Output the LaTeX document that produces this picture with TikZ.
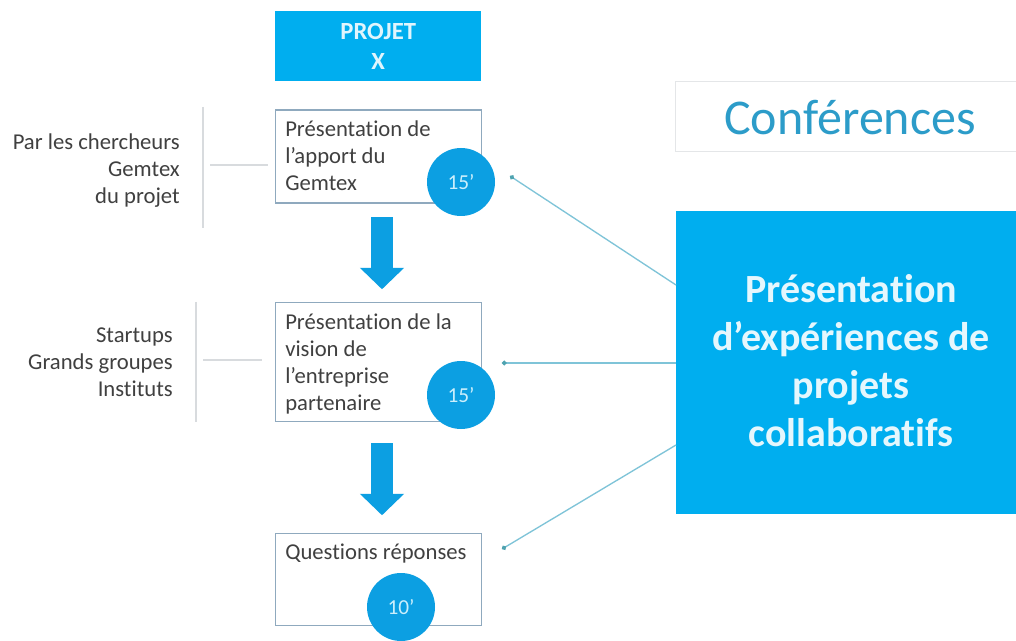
\documentclass[tikz,border=0pt]{standalone}
\usepackage{fontspec}
\setmainfont[Ligatures=NoCommon]{Carlito}
\usetikzlibrary{shapes.arrows,arrows.meta}
\definecolor{cblue}{HTML}{00AEEF}
\definecolor{cdeep}{HTML}{0C9FE2}
\definecolor{ctxt}{HTML}{404040}
\definecolor{cedge}{HTML}{8FA9BE}
\definecolor{cline}{HTML}{D8DBDE}
\definecolor{cconn}{HTML}{7FC4D8}
\definecolor{ctitle}{HTML}{2C9CC9}
\definecolor{cdot}{HTML}{4FA3B0}
\tikzset{
  x=0.75pt,y=-0.75pt,
  panel/.style={draw=cedge,line width=0.8pt,fill=white,minimum width=154.5pt,inner sep=0pt,anchor=north west},
  bodytxt/.style={text=ctxt,font=\fontsize{17}{20.3}\selectfont,align=left,anchor=north west,inner sep=0pt},
  sidetxt/.style={text=ctxt,font=\fontsize{17}{20.3}\selectfont,align=right,anchor=east,inner sep=0pt},
  dur/.style={circle,fill=cdeep,draw=none,minimum size=51pt,inner sep=0pt,text=white!80!cblue,font=\fontsize{16}{18}\selectfont},
  flow/.style={single arrow,fill=cdeep,draw=none,minimum height=54pt,inner sep=7.875pt,single arrow head extend=8.5pt,single arrow tip angle=92,shape border rotate=270},
  rule/.style={draw=cline,line width=0.9pt},
  conn/.style={draw=cconn,line width=1pt,{Circle[length=3.5pt,color=cdot]}-},
}
\begin{document}
\begin{tikzpicture}
\useasboundingbox (0,0) rectangle (1016,641);
\fill[white] (0,0) rectangle (1016,641);
% header
\node[fill=cblue,minimum width=154.5pt,minimum height=52.5pt,inner sep=0pt,anchor=north west,text=white!88!cblue,font=\bfseries\fontsize{18.5}{22.5}\selectfont,align=center] (head) at (275,11) {PROJET\\X};
% boxes
\node[panel,minimum height=69.75pt] (b1) at (275,109.5) {};
\node[panel,minimum height=89.25pt] (b2) at (275,302) {};
\node[panel,minimum height=69pt] (b3) at (275,533) {};
\node[bodytxt] (t1) at (285,120.5) {Présentation de\\l’apport du\\Gemtex};
\node[bodytxt] (t2) at (285,313) {Présentation de la\\vision de\\l’entreprise\\partenaire};
\node[bodytxt] (t3) at (285,544) {Questions réponses};
% duration circles
\node[dur] (c1) at (461,182) {15’};
\node[dur] (c2) at (461,395) {15’};
\node[dur] (c3) at (401,607) {10’};
% flow arrows
\node[flow] (a1) at (382,248) {};
\node[flow] (a2) at (382,474) {};
% side labels
\node[sidetxt] (s1) at (180,171) {Par les chercheurs\\Gemtex\\du projet};
\node[sidetxt] (s2) at (173,362) {Startups\\Grands groupes\\Instituts};
\coordinate (v1t) at (203,107); \coordinate (v1b) at (203,228);
\coordinate (v2t) at (196,302); \coordinate (v2b) at (196,422);
\coordinate (h1l) at (210,165); \coordinate (h1r) at (268,165);
\coordinate (h2l) at (203,360); \coordinate (h2r) at (262,360);
\draw[rule] (v1t) -- (v1b);
\draw[rule] (v2t) -- (v2b);
\draw[rule] (h1l) -- (h1r);
\draw[rule] (h2l) -- (h2r);
% right
\node[draw=cline!70!white,line width=0.7pt,minimum width=256pt,minimum height=52.5pt,inner sep=0pt,anchor=north west] (conf) at (675,81) {};
\node[text=ctitle,font=\fontsize{37.5}{40}\selectfont,inner sep=0pt] (conft) at (850,118) {Conférences};
\node[fill=cblue,minimum width=255pt,minimum height=227.25pt,inner sep=0pt,anchor=north west] (big) at (676,211) {};
\node[text=white!90!cblue,font=\bfseries\fontsize{30}{36}\selectfont,align=center,inner sep=0pt] (bigt) at (851,360.5) {Présentation\\d’expériences de\\projets\\collaboratifs};
\coordinate (p1) at (510,176);
\coordinate (p2) at (502,363);
\coordinate (p3) at (502,549);
\draw[conn] (p1) -- (big.west |- 0,285);
\draw[conn] (p2) -- (big.west |- 0,363);
\draw[conn] (p3) -- (big.west |- 0,445);
\end{tikzpicture}
\end{document}
